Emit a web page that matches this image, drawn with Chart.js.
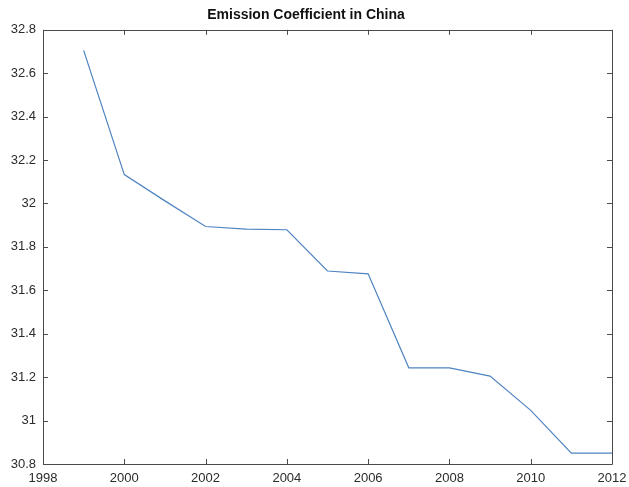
<!DOCTYPE html>
<html>
<head>
<meta charset="utf-8">
<script src="https://cdn.jsdelivr.net/npm/chart.js@4/dist/chart.umd.min.js"></script>
<style>
  html, body { margin: 0; padding: 0; background: #fff; }
  #wrap { width: 629px; height: 487px; position: relative; }
</style>
</head>
<body>
<div id="wrap"><canvas id="c" width="629" height="487"></canvas></div>
<script>
// Emission coefficient by year
const years = [1999, 2000, 2001, 2002, 2003, 2004, 2005, 2006, 2007, 2008, 2009, 2010, 2011, 2012];
const coefficients = [32.705, 32.133, 32.012, 31.894, 31.882, 31.879, 31.689, 31.676, 31.243, 31.243, 31.205, 31.047, 30.850, 30.850];

const xTickRange = { min: 1998, max: 2012, step: 2 };
const yTickRange = { min: 30.8, max: 32.8, step: 0.2 };
const titleText = 'Emission Coefficient in China';

const axisColor = '#4a4a4a';
const labelColor = '#2b2b2b';
const lineColor = '#4f84c2';

// Box frame with inward tick marks on all four sides
const boxTicks = {
  id: 'boxTicks',
  afterDraw(chart) {
    const { ctx, chartArea: a, scales } = chart;
    const len = 5;
    ctx.save();
    ctx.strokeStyle = axisColor;
    ctx.lineWidth = 1;
    ctx.beginPath();
    ctx.rect(Math.round(a.left) + 0.5, Math.round(a.top) + 0.5,
             Math.round(a.right - a.left), Math.round(a.bottom - a.top));
    scales.x.ticks.forEach(t => {
      const px = Math.round(scales.x.getPixelForValue(t.value)) + 0.5;
      ctx.moveTo(px, a.bottom); ctx.lineTo(px, a.bottom - len);
      ctx.moveTo(px, a.top); ctx.lineTo(px, a.top + len);
    });
    scales.y.ticks.forEach(t => {
      const py = Math.round(scales.y.getPixelForValue(t.value)) + 0.5;
      ctx.moveTo(a.left, py); ctx.lineTo(a.left + len, py);
      ctx.moveTo(a.right, py); ctx.lineTo(a.right - len, py);
    });
    ctx.stroke();
    ctx.restore();
  }
};

new Chart(document.getElementById('c'), {
  type: 'line',
  data: {
    datasets: [{
      data: years.map((y, i) => ({ x: y, y: coefficients[i] })),
      borderColor: lineColor,
      borderWidth: 1.2,
      pointRadius: 0,
      tension: 0,
      fill: false
    }]
  },
  options: {
    responsive: false,
    animation: false,
    devicePixelRatio: 1,
    layout: { padding: { left: 0, right: 17, top: 0, bottom: 0 } },
    plugins: {
      legend: { display: false },
      tooltip: { enabled: false },
      title: {
        display: true,
        text: titleText,
        color: '#111',
        font: { family: 'Liberation Sans, Arial, sans-serif', size: 14, weight: 'bold' },
        padding: { top: 7, bottom: 6 }
      }
    },
    scales: {
      x: {
        type: 'linear',
        min: xTickRange.min,
        max: xTickRange.max,
        afterFit(s) { s.height = 23; s.paddingRight = 0; s.paddingLeft = 0; },
        grid: { display: true, drawOnChartArea: false, drawTicks: false },
        border: { display: false },
        ticks: {
          stepSize: xTickRange.step,
          padding: 7,
          maxRotation: 0,
          color: labelColor,
          font: { family: 'Liberation Sans, Arial, sans-serif', size: 13 },
          callback: v => String(v)
        }
      },
      y: {
        type: 'linear',
        min: yTickRange.min,
        max: yTickRange.max,
        afterFit(s) { s.width = 43; s.paddingTop = 0; s.paddingBottom = 0; },
        grid: { display: true, drawOnChartArea: false, drawTicks: false },
        border: { display: false },
        ticks: {
          stepSize: yTickRange.step,
          padding: 7,
          color: labelColor,
          font: { family: 'Liberation Sans, Arial, sans-serif', size: 13 },
          callback: v => String(+Number(v).toFixed(1))
        }
      }
    }
  },
  plugins: [boxTicks]
});
</script>
</body>
</html>
